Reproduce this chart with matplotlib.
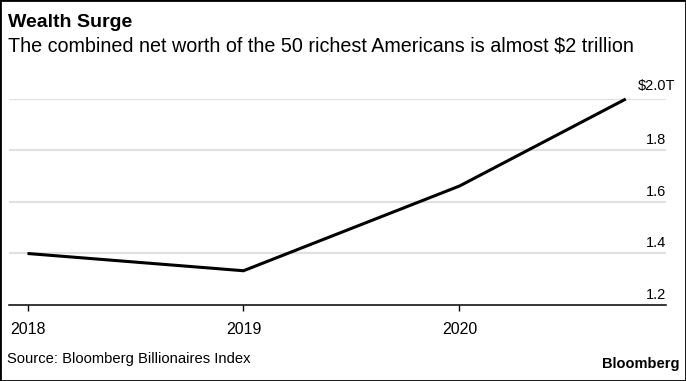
import matplotlib.pyplot as plt
from matplotlib.transforms import blended_transform_factory, offset_copy

plt.rcParams['font.family'] = ['Liberation Sans', 'DejaVu Sans']

# data (trillions of USD)
years = [2018.0, 2019.0, 2020.0, 2020.77]
worth = [1.40, 1.333, 1.662, 2.0]

y_ticks = [1.2, 1.4, 1.6, 1.8, 2.0]
y_labels = ["1.2", "1.4", "1.6", "1.8", "$2.0T"]
x_ticks = [2018, 2019, 2020]
x_labels = ["2018", "2019", "2020"]

fig = plt.figure(figsize=(6.86, 3.81), dpi=100)
ax = fig.add_axes([0.0127, 0.1995, 0.9581, 0.5407])

ax.plot(years, worth, color="black", lw=2.2, solid_capstyle="butt",
        solid_joinstyle="miter", clip_on=False, zorder=3)

ax.set_xlim(2017.913, 2020.956)
ax.set_ylim(1.2, 2.0)

for s in ["top", "left", "right"]:
    ax.spines[s].set_visible(False)
ax.spines["bottom"].set_linewidth(1.1)
ax.spines["bottom"].set_zorder(4)

# gridlines
for v in y_ticks[1:]:
    ax.axhline(v, color="#e0e0e0", lw=1.5, zorder=1)

ax.set_yticks([])
ax.set_xticks(x_ticks)
ax.set_xticklabels(x_labels, fontsize=11.5)
ax.tick_params(axis="x", length=4, width=1, pad=8, color="black")

# y labels above gridlines, right aligned (the "T" of the top label hangs past the edge)
base = blended_transform_factory(ax.transAxes, ax.transData)
for v, lab in zip(y_ticks, y_labels):
    dx = 6.5 if lab.endswith("T") else 0
    dy = 4.0 if lab.endswith("T") else 2.5
    tr = offset_copy(base, fig=fig, x=dx, y=dy, units="points")
    ax.text(1.0, v, lab, transform=tr, ha="right", va="bottom", fontsize=10.5)

fig.text(0.0117, 0.942, "Wealth Surge", fontsize=14, fontweight="bold", va="center")
fig.text(0.0117, 0.879, "The combined net worth of the 50 richest Americans is almost $2 trillion",
         fontsize=14.2, va="center")
fig.text(0.0107, 0.058, "Source: Bloomberg Billionaires Index", fontsize=10.6, va="center")
fig.text(0.991, 0.045, "Bloomberg", fontsize=10.5, fontweight="bold", ha="right", va="center")

# frame around the figure
fig.patches.append(plt.Rectangle((0, 0), 1, 1, transform=fig.transFigure, fill=False,
                                 edgecolor="black", lw=2))

fig.savefig("out.png", dpi=100)
